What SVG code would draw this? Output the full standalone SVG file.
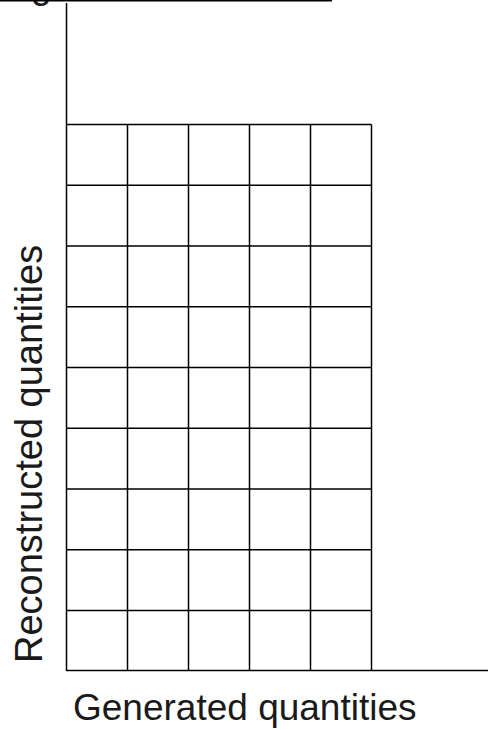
<svg xmlns="http://www.w3.org/2000/svg" width="488" height="730" viewBox="0 0 488 730">
<style>
.ln{stroke:#000;stroke-width:1.5;fill:none}
.lbl{font-family:"Liberation Sans",Arial,sans-serif;font-size:37px;fill:#1a1a1a}
</style>
<rect width="488" height="730" fill="#fff"/>
<g id="title">
<text class="lbl" x="31" y="-2">g</text>
<line class="ln" x1="0" y1="0.75" x2="332" y2="0.75" stroke-width="2"/>
</g>
<g id="axes">
<line class="ln" x1="66.5" y1="3" x2="66.5" y2="671"/>
<line class="ln" x1="66" y1="670.5" x2="488" y2="670.5"/>
</g>
<g id="grid">
<path class="ln" d="M127.5 124.5V670.5M188.5 124.5V670.5M249.5 124.5V670.5M310.5 124.5V670.5M371.5 124.5V670.5
M66.5 124.5H371.5M66.5 185.2H371.5M66.5 246H371.5M66.5 306.7H371.5M66.5 367.5H371.5M66.5 428.2H371.5M66.5 489H371.5M66.5 549.7H371.5M66.5 610.5H371.5"/>
</g>
<g id="labels">
<text class="lbl" x="73" y="720">Generated quantities</text>
<text class="lbl" style="font-size:38px" transform="translate(42,663) rotate(-90)">Reconstructed quantities</text>
</g>
</svg>
